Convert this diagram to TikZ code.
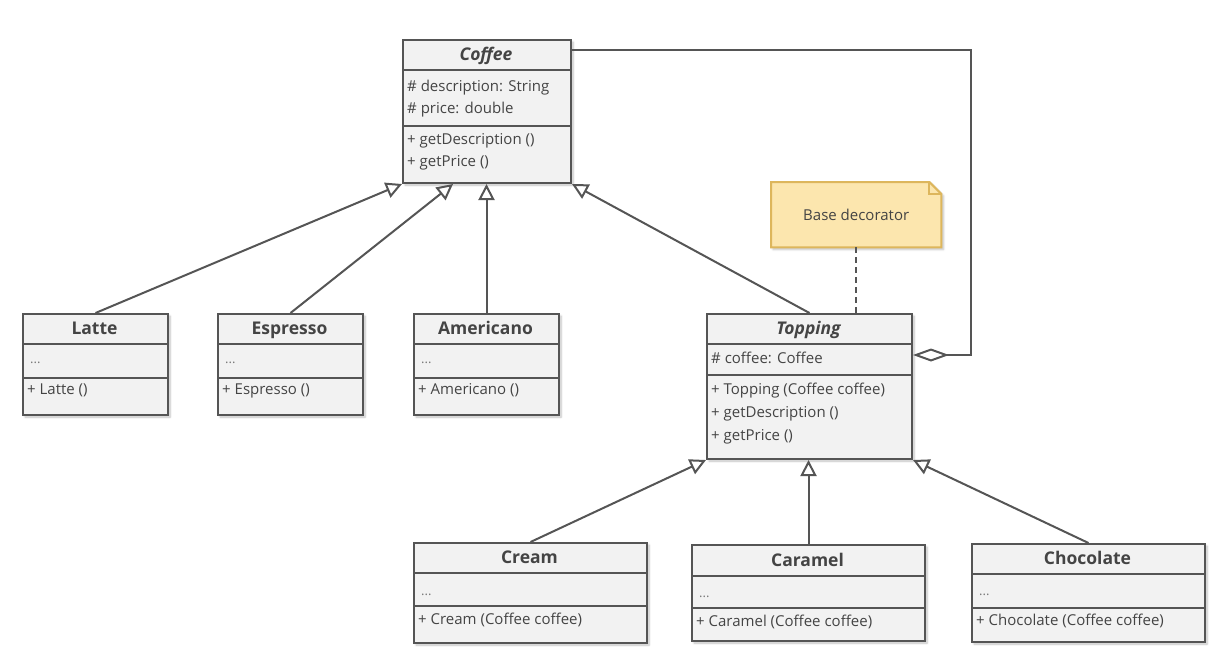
\documentclass[tikz,border=0pt]{standalone}
\usepackage{fontspec}
\setmainfont{Open Sans}
\usetikzlibrary{arrows.meta,shadows.blur,calc}
\definecolor{lc}{HTML}{555555}
\definecolor{bf}{HTML}{F2F2F2}
\definecolor{tc}{HTML}{444444}
\definecolor{dc}{HTML}{777777}
\definecolor{nf}{HTML}{FCE6AE}
\definecolor{nb}{HTML}{DDB65C}
\newcommand\umlclass[7]{%
  \node[classbox, minimum width={(#4-#2)*1pt}, minimum height={(#5-#3)*1pt}] (#1) at (#2,#3) {};
  \draw[sepline] (#2,#6) -- (#4,#6);
  \draw[sepline] (#2,#7) -- (#4,#7);
}
\begin{document}
\begin{tikzpicture}[x=1pt,y=-1pt,
  classbox/.style={draw=lc, fill=bf, line width=2pt, anchor=north west, inner sep=0pt,
    blur shadow={shadow xshift=2pt, shadow yshift=-2pt, shadow blur steps=6, shadow opacity=25}},
  sepline/.style={draw=lc, line width=2pt},
  titletext/.style={text=tc, font=\fontsize{17.5}{20}\selectfont\bfseries, inner sep=0pt, anchor=base},
  abstitle/.style={titletext, font=\fontsize{17.5}{20}\selectfont\bfseries\itshape},
  member/.style={text=tc, font=\fontsize{15}{18}\selectfont, anchor=base west, inner sep=0pt, xshift=2pt},
  dots/.style={text=dc, font=\fontsize{13}{15}\selectfont, anchor=base west, inner sep=0pt, xshift=3pt},
  gen/.style={draw=lc, line width=2pt, -{Triangle[open, length=16pt, width=16pt, fill=white]}},
  agg/.style={draw=lc, line width=2pt, -{Diamond[open, length=36pt, width=13pt, fill=white]}},
  notelink/.style={draw=lc, line width=2pt, dash pattern=on 6pt off 4pt},
  notestyle/.style={draw=nb, fill=nf, line width=2pt, line join=miter},
  notetext/.style={text=tc, font=\fontsize{15}{18}\selectfont, inner sep=0pt}
]
\useasboundingbox (0,0) rectangle (1223,662);

% classes
\umlclass{coffee}{402}{39}{570}{182}{70}{126}
\umlclass{latte}{22}{313}{167}{414}{344}{378}
\umlclass{espresso}{217}{313}{362}{414}{344}{378}
\umlclass{americano}{413}{313}{558}{414}{344}{378}
\umlclass{topping}{706}{313}{911}{458}{344}{375}
\umlclass{cream}{413}{542}{646}{642}{573}{606}
\umlclass{caramel}{691}{544}{924}{640}{576}{608}
\umlclass{chocolate}{971}{543}{1204}{641}{574}{608}

% texts
\node[abstitle] (coffee-t) at (486,60) {Coffee};
\node[member] (coffee-a1) at (405,91) {\# description: String};
\node[member] (coffee-a2) at (405,113) {\# price: double};
\node[member] (coffee-m1) at (405,144) {+ getDescription ()};
\node[member] (coffee-m2) at (405,166) {+ getPrice ()};

\node[titletext] (latte-t) at (94.5,334) {Latte};
\node[dots] (latte-a) at (27,363) {...};
\node[member] (latte-m) at (25,394) {+ Latte ()};

\node[titletext] (espresso-t) at (289.5,334) {Espresso};
\node[dots] (espresso-a) at (222,363) {...};
\node[member] (espresso-m) at (220,394) {+ Espresso ()};

\node[titletext] (americano-t) at (485.5,334) {Americano};
\node[dots] (americano-a) at (418,363) {...};
\node[member] (americano-m) at (416,394) {+ Americano ()};

\node[abstitle] (topping-t) at (808.5,334) {Topping};
\node[member] (topping-a1) at (709,363) {\# coffee: Coffee};
\node[member] (topping-m1) at (709,394) {+ Topping (Coffee coffee)};
\node[member] (topping-m2) at (709,417) {+ getDescription ()};
\node[member] (topping-m3) at (709,440) {+ getPrice ()};

\node[titletext] (cream-t) at (529.5,563) {Cream};
\node[dots] (cream-a) at (418,595) {...};
\node[member] (cream-m) at (416,624) {+ Cream (Coffee coffee)};

\node[titletext] (caramel-t) at (807.5,566) {Caramel};
\node[dots] (caramel-a) at (696,597) {...};
\node[member] (caramel-m) at (694,626) {+ Caramel (Coffee coffee)};

\node[titletext] (chocolate-t) at (1087.5,564) {Chocolate};
\node[dots] (chocolate-a) at (976,595) {...};
\node[member] (chocolate-m) at (974,625) {+ Chocolate (Coffee coffee)};

% note
\node[minimum width=170pt, minimum height=65pt, anchor=north west, inner sep=0pt] (note) at (771,182) {};
\path[notestyle, blur shadow={shadow xshift=2pt, shadow yshift=-2pt, shadow blur steps=6, shadow opacity=25}]
  (note.north west) -- ($(note.north east)+(-12,0)$) -- ($(note.north east)+(0,12)$)
  -- (note.south east) -- (note.south west) -- cycle;
\draw[notestyle, fill=none] ($(note.north east)+(-12,0)$) |- ($(note.north east)+(0,12)$);
\node[notetext] (note-t) at (note.center) {Base decorator};

% generalizations
\draw[gen] (latte.north) -- (coffee.south west);
\draw[gen] (espresso.north) -- ($(coffee.south west)+(51,0)$);
\draw[gen] (americano.north) -- (americano.north |- coffee.south);
\draw[gen] (topping.north) -- (coffee.south east);
\draw[gen] (cream.north) -- (topping.south west);
\draw[gen] (caramel.north) -- (caramel.north |- topping.south);
\draw[gen] (chocolate.north) -- (topping.south east);

% aggregation
\coordinate (aggcorner) at (971,50);
\draw[agg] ($(coffee.north east)+(0,11)$) -- (aggcorner) |- ($(topping.north east)+(0,42)$);

% note link
\draw[notelink] (note.south) -- (note.south |- topping.north);
\end{tikzpicture}
\end{document}
